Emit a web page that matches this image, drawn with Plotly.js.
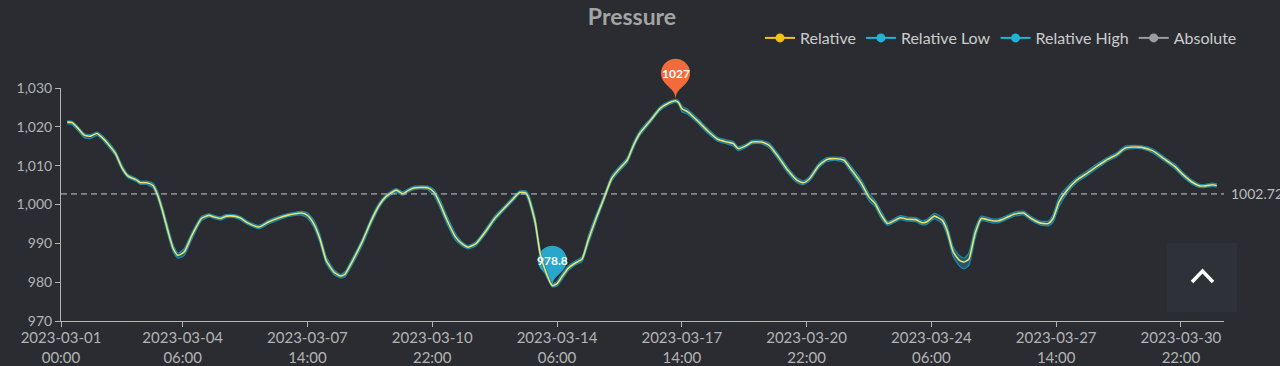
<!DOCTYPE html>
<html><head><meta charset="utf-8">
<script src="https://cdn.plot.ly/plotly-3.0.1.min.js"></script>
<style>html,body{margin:0;padding:0;background:#2a2c32;overflow:hidden}#chart{width:1280px;height:366px}</style>
</head><body><div id="chart"></div>
<script>
// ---- data ----
const startDate = Date.UTC(2023, 2, 1, 0, 0);
const hourOffsets = [
  4,7,10,15,19,23,26,31,35,39,
  43,48,51,55,59,62,65,69,72,75,
  79,84,90,95,98,102,106,111,115,120,
  127,133,140,145,150,154,158,162,166,170,
  175,179,182,186,193,199,204,208,212,215,
  219,223,227,231,235,239,243,247,253,257,
  261,266,272,278,285,290,294,298,300,304,
  307,310,315,318,321,325,330,334,338,343,
  348,353,358,363,367,371,378,384,389,394,
  396,398,402,409,415,421,427,431,434,439,
  443,449,454,460,466,472,476,480,486,491,
  497,502,507,513,518,522,526,530,538,543,
  548,552,555,560,565,568,572,576,579,582,
  586,590,597,601,605,611,617,622,628,633,
  636,640,645,651,658,664,670,677,682,687,
  693,700,707,714,719,725,730,734,738,741
];
const relative = [
  1021.2,1021.1,1020.0,1017.8,1017.6,1018.3,1017.4,1015.2,1013.1,1009.5,
  1007.3,1006.4,1005.6,1005.6,1004.9,1002.4,998.5,992.5,988.6,986.9,
  987.8,992.1,996.4,997.2,996.8,996.4,997.0,997.0,996.5,995.2,
  994.2,995.5,996.6,997.2,997.6,997.8,997.2,995.1,991.2,985.6,
  982.6,981.6,982.0,984.8,990.3,995.9,999.8,1001.9,1003.1,1003.7,
  1002.8,1003.7,1004.3,1004.4,1004.3,1003.2,1000.2,996.4,991.6,989.9,
  989.0,989.9,992.9,996.4,999.4,1001.5,1003.1,1003.0,1001.5,995.5,
  987.8,983.5,979.1,979.6,981.3,983.5,985.0,985.9,990.8,996.4,
  1001.5,1006.7,1009.2,1011.4,1015.2,1018.3,1021.7,1024.7,1026.0,1026.7,
  1026.2,1024.7,1023.8,1021.2,1018.8,1016.8,1016.1,1015.7,1014.4,1015.1,
  1016.1,1016.1,1015.2,1012.2,1008.8,1006.2,1005.6,1006.7,1010.1,1011.6,
  1011.8,1011.4,1008.8,1005.5,1001.9,1000.2,997.2,995.1,996.6,996.2,
  996.1,995.3,995.5,997.0,995.9,993.4,987.8,985.6,985.2,985.9,
  992.5,996.4,995.8,995.8,996.4,997.5,997.8,996.4,995.2,995.1,
  996.4,1000.8,1003.7,1006.2,1008.1,1009.8,1011.4,1012.9,1014.5,1014.8,
  1014.7,1013.8,1011.8,1009.8,1007.8,1005.8,1004.8,1004.8,1005.1,1004.9
];
const relativeLow = [
  1020.8,1020.6,1019.4,1017.2,1017.0,1017.8,1016.9,1014.6,1012.5,1009.0,
  1006.9,1006.0,1005.2,1005.2,1004.3,1001.6,997.6,991.5,987.8,986.2,
  986.9,991.2,995.8,996.8,996.4,996.0,996.6,996.6,996.0,994.8,
  993.8,995.0,996.1,996.8,997.2,997.3,996.5,994.2,990.2,984.8,
  982.0,981.1,981.4,984.0,989.4,995.1,999.2,1001.4,1002.6,1003.2,
  1002.4,1003.3,1003.9,1004.0,1003.8,1002.4,999.2,995.4,990.8,989.4,
  988.6,989.4,992.3,995.8,998.9,1001.0,1002.7,1002.5,1000.6,994.4,
  986.8,982.6,978.8,979.0,980.6,982.9,984.5,985.3,989.8,995.5,
  1000.8,1006.0,1008.6,1010.8,1014.5,1017.7,1021.2,1024.2,1025.6,1026.3,
  1025.8,1023.9,1023.2,1020.6,1018.2,1016.3,1015.6,1015.1,1013.9,1014.7,
  1015.7,1015.7,1014.6,1011.5,1008.1,1005.6,1005.1,1006.1,1009.5,1011.1,
  1011.4,1010.8,1008.0,1004.6,1001.0,999.4,996.3,994.6,996.1,995.7,
  995.6,994.8,994.9,996.3,995.1,992.2,986.6,984.2,983.4,984.3,
  991.2,995.8,995.3,995.3,995.9,997.0,997.3,995.9,994.7,994.5,
  995.4,999.6,1002.9,1005.6,1007.5,1009.2,1010.9,1012.4,1014.0,1014.4,
  1014.3,1013.3,1011.3,1009.2,1007.2,1005.3,1004.4,1004.4,1004.7,1004.5
];
const relativeHigh = [
  1021.5,1021.4,1020.4,1018.2,1018.0,1018.6,1017.9,1015.8,1013.7,1010.2,
  1007.7,1006.8,1006.0,1006.0,1005.5,1003.3,999.5,993.6,989.5,987.5,
  988.6,992.8,996.9,997.6,997.2,996.8,997.4,997.4,996.9,995.6,
  994.6,995.9,997.0,997.6,998.0,998.2,997.8,996.0,992.2,986.6,
  983.2,982.0,982.6,985.5,991.0,996.6,1000.4,1002.3,1003.5,1004.1,
  1003.3,1004.1,1004.7,1004.8,1004.7,1003.9,1001.2,997.4,992.4,990.4,
  989.4,990.4,993.5,997.0,999.9,1002.0,1003.5,1003.5,1002.4,996.6,
  988.8,984.4,979.5,980.2,982.0,984.1,985.5,986.5,991.8,997.3,
  1002.2,1007.4,1009.8,1012.0,1015.9,1018.9,1022.2,1025.2,1026.4,1027.0,
  1026.7,1025.4,1024.4,1021.8,1019.4,1017.3,1016.6,1016.2,1014.9,1015.5,
  1016.5,1016.5,1015.8,1012.9,1009.5,1006.8,1006.1,1007.3,1010.7,1012.1,
  1012.2,1012.0,1009.6,1006.4,1002.8,1001.0,998.1,995.6,997.1,996.7,
  996.6,995.8,996.1,997.7,996.7,994.6,989.0,986.8,986.2,987.5,
  993.8,997.0,996.3,996.3,996.9,998.0,998.3,996.9,995.7,995.7,
  997.4,1002.0,1004.5,1006.8,1008.7,1010.4,1011.9,1013.4,1015.0,1015.2,
  1015.1,1014.3,1012.3,1010.4,1008.4,1006.3,1005.2,1005.2,1005.5,1005.3
];
const averageValue = 1002.72;
const tickHours = [0,78,158,238,318,398,478,558,638,718];
const tickLabels = [
  '2023-03-01<br>00:00','2023-03-04<br>06:00','2023-03-07<br>14:00','2023-03-10<br>22:00',
  '2023-03-14<br>06:00','2023-03-17<br>14:00','2023-03-20<br>22:00','2023-03-24<br>06:00',
  '2023-03-27<br>14:00','2023-03-30<br>22:00'
];
const yTicks = [970,980,990,1000,1010,1020,1030];
const legendNames = ['Relative','Relative Low','Relative High','Absolute'];
const legendColors = ['#f4c21c','#22b4d2','#22b4d2','#9c9c9c'];
const xRangeHours = [0, 745.6];

// ---- helpers ----
function toDate(h){ const d = new Date(startDate + h*3600000); return d.toISOString().slice(0,19).replace('T',' '); }
const times = hourOffsets.map(toDate);

const M = {l:61, r:56, t:88, b:45};
const W = 1280, H = 366, PW = W - M.l - M.r, PH = H - M.t - M.b;
const px2paperX = p => (p - M.l)/PW;
const px2paperY = p => (H - M.b - p)/PH;

function pinPath(r, h){
  const d = h - r, th = Math.acos(r/d);
  const cx = 0, cy = d;
  const P = a => [cx + r*Math.cos(a), cy + r*Math.sin(a)];
  const T = a => [-Math.sin(a), Math.cos(a)];
  const aR = -Math.PI/2 + th, aL = -Math.PI/2 - th + 2*Math.PI;
  const cpLen = r*0.6, cpLen2 = r*0.7;
  const f = v => v.toFixed(2);
  const TR = P(aR), tR = T(aR);
  let s = `M0,0 C0,${f(cpLen2)} ${f(TR[0]-tR[0]*cpLen)},${f(TR[1]-tR[1]*cpLen)} ${f(TR[0])},${f(TR[1])}`;
  const n = 4, span = aL - aR, da = span/n, k = 4/3*Math.tan(da/4);
  for(let i=0;i<n;i++){
    const a = aR + i*da, b = a + da;
    const p0 = P(a), t0 = T(a), p3 = P(b), t3 = T(b);
    s += ` C${f(p0[0]+k*r*t0[0])},${f(p0[1]+k*r*t0[1])} ${f(p3[0]-k*r*t3[0])},${f(p3[1]-k*r*t3[1])} ${f(p3[0])},${f(p3[1])}`;
  }
  const TL = P(aL), tL = T(aL);
  s += ` C${f(TL[0]+tL[0]*cpLen)},${f(TL[1]+tL[1]*cpLen)} 0,${f(cpLen2)} 0,0 Z`;
  return s;
}

// extremes from the data
let maxI = 0; relativeHigh.forEach((v,i)=>{ if(v>relativeHigh[maxI]) maxI=i; });
let minI = 0; relativeLow.forEach((v,i)=>{ if(v<relativeLow[minI]) minI=i; });
const PIN_R = 14.5, PIN_H = 41;

const tealLine = '#1f89aa';
const traces = [
  {x: times, y: relativeLow, type:'scatter', mode:'lines', line:{color:tealLine, width:1.3, shape:'spline', smoothing:0.5}, showlegend:false, hoverinfo:'skip'},
  {x: times, y: relativeHigh, type:'scatter', mode:'lines', fill:'tonexty', fillcolor:'rgba(31,122,152,0.55)', line:{color:tealLine, width:1.3, shape:'spline', smoothing:0.5}, showlegend:false, hoverinfo:'skip'},
  {x: times, y: relative, type:'scatter', mode:'lines', line:{color:'#ebe26c', width:1.6, shape:'spline', smoothing:0.5}, showlegend:false, hoverinfo:'skip'}
];
legendNames.forEach((n,i)=>traces.push({x:[null], y:[null], type:'scatter', mode:'lines+markers', name:n,
  line:{color:legendColors[i], width:2}, marker:{color:legendColors[i], size:9}}));

const baseShapes = [
  {type:'line', xref:'paper', x0:0, x1:1, yref:'y', y0:averageValue, y1:averageValue, line:{color:'#c8c8c8', width:1, dash:'6px,4px'}},
  // scroll-to-top button of the page
  {type:'rect', xref:'paper', yref:'paper', x0:px2paperX(1167), x1:px2paperX(1237), y0:px2paperY(312), y1:px2paperY(243), fillcolor:'#2f3139', line:{width:0}},
  {type:'path', xref:'paper', yref:'paper', path:`M${px2paperX(1192)},${px2paperY(282)} L${px2paperX(1202.5)},${px2paperY(271)} L${px2paperX(1213)},${px2paperY(282)}`, line:{color:'#ffffff', width:3.5}}
];

const annotations = [
  {x: times[maxI], y: relativeHigh[maxI], xref:'x', yref:'y', yshift: PIN_H-PIN_R, showarrow:false, text: String(relativeHigh[maxI]), font:{family:'Lato', size:12, color:'#ffffff', weight:'bold'}},
  {x: times[minI], y: relativeLow[minI], xref:'x', yref:'y', yshift: PIN_H-PIN_R, showarrow:false, text: String(relativeLow[minI]), font:{family:'Lato', size:12, color:'#ffffff', weight:'bold'}},
  {x:1, xref:'paper', xanchor:'left', xshift:5, y:averageValue, yref:'y', showarrow:false, text:String(averageValue), font:{family:'Lato', size:14, color:'#bdbdbd'}}
];

const axisColor = '#b4b4b4';
const layout = {
  width: W, height: H, margin: M,
  paper_bgcolor:'#2a2c32', plot_bgcolor:'#2a2c32',
  title:{text:'Pressure', x:632/W, xref:'container', xanchor:'center', y:1-17/H, yref:'container', yanchor:'middle', font:{family:'Lato', size:23, color:'#a4a4a4', weight:'bold'}},
  showlegend:true,
  legend:{orientation:'h', x:px2paperX(1242), xanchor:'right', y:px2paperY(38), yanchor:'middle', font:{family:'Lato', size:16, color:'#cccccc'}, bgcolor:'rgba(0,0,0,0)', itemwidth:30, traceorder:'normal'},
  xaxis:{type:'date', range:[toDate(xRangeHours[0]), toDate(xRangeHours[1])], tickmode:'array', tickvals: tickHours.map(toDate), ticktext: tickLabels,
    showgrid:false, zeroline:false, showline:true, linecolor:axisColor, linewidth:1, ticks:'outside', ticklen:5, tickcolor:axisColor, ticklabelstandoff:-2,
    tickfont:{family:'Lato', size:15, color:'#b4b4b4'}, fixedrange:true},
  yaxis:{range:[970,1030], tickmode:'array', tickvals:yTicks, tickformat:',d', showgrid:false, zeroline:false, showline:true, linecolor:axisColor, linewidth:1,
    ticks:'outside', ticklen:5, tickcolor:axisColor, tickfont:{family:'Lato', size:14, color:'#b4b4b4'}, fixedrange:true},
  shapes: baseShapes, annotations
};
Plotly.newPlot('chart', traces, layout, {staticPlot:true, displayModeBar:false}).then(gd => {
  // pins: x on the data axis, y converted through Plotly's own y scale into a domain fraction (avoids clipping at the plot top)
  const ya = gd._fullLayout.yaxis;
  const yFrac = v => 1 - ya.c2p(v) / ya._length;
  const pin = (i, vals, color) => ({type:'path', layer:'below', xref:'x', yref:'y domain', xsizemode:'pixel', ysizemode:'pixel',
    xanchor: times[i], yanchor: yFrac(vals[i]), path: pinPath(PIN_R, PIN_H), fillcolor: color, line:{width:0}});
  return Plotly.relayout(gd, {shapes: baseShapes.concat([pin(maxI, relativeHigh, '#f36a3b'), pin(minI, relativeLow, '#29a6c9')])});
});
</script></body></html>
